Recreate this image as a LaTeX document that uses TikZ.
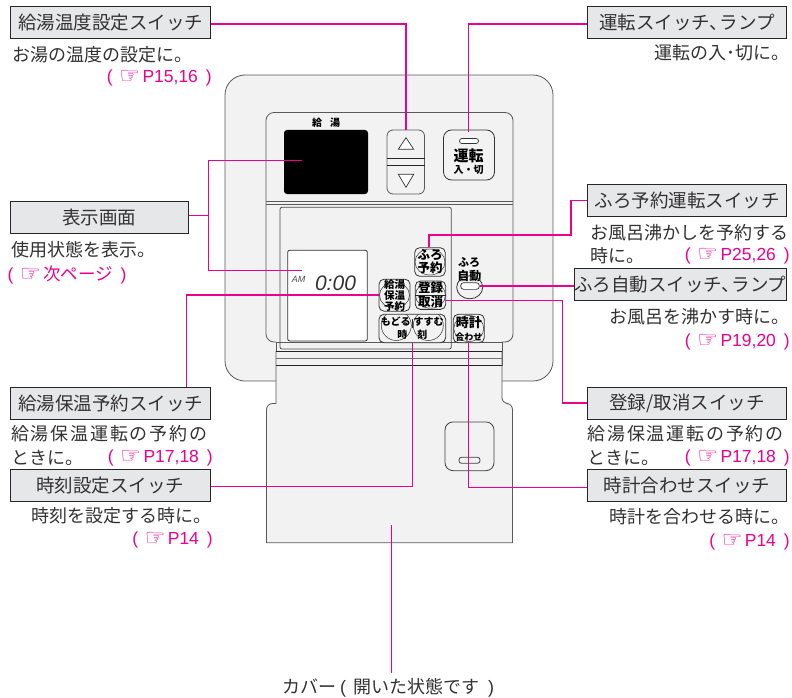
\documentclass[tikz,border=0pt]{standalone}
\usepackage{fontspec}
\setmainfont{Noto Sans CJK JP}
\newfontfamily\latinfont{Liberation Sans}
\newfontfamily\fistfont{DejaVu Sans}
\newfontfamily\widefont[LetterSpace=10]{Noto Sans CJK JP}
\definecolor{leadpink}{HTML}{EC008C}
\definecolor{panelgray}{HTML}{F2F2F2}
\definecolor{boxgray}{HTML}{E6E7E8}
\definecolor{inkgray}{HTML}{333132}
\newcommand{\pgmark}[1]{{\latinfont(}\hspace{6.7pt}\raisebox{-1.5pt}{\fistfont\fontsize{23}{20}\selectfont ☞}\hspace{2.4pt}#1\hspace{8pt}{\latinfont)}}
\newcommand{\pgref}[1]{\pgmark{{\latinfont #1}}}
\newcommand{\fsize}[1]{\fontsize{#1}{#1}\selectfont}
\tikzset{
    headbox/.style={draw=black!85, line width=.9pt, fill=boxgray, text=inkgray, inner sep=0pt, minimum height=32pt, font=\fsize{18.5}},
    bodytext/.style={text=inkgray, inner sep=0pt, font=\fsize{18}},
    pinktext/.style={text=leadpink, inner sep=0pt, font=\fsize{17.5}},
    panel/.style={draw=black!65, line width=.8pt, fill=panelgray},
    lead/.style={draw=leadpink, line width=1.1pt},
    btn/.style={draw=black!80, line width=.8pt, fill=panelgray, rounded corners=5pt, inner sep=0pt, align=center, font=\fontsize{12.5}{13}\selectfont\bfseries,
        path picture={\draw[line width=.5pt] (path picture bounding box.center) ellipse (15pt and 13pt);}},
    tinylabel/.style={inner sep=0pt, font=\fsize{10}\bfseries}
}
\begin{document}
\begin{tikzpicture}[x=1pt, y=-1pt]
\useasboundingbox (0,0) rectangle (792,698);

% panel and cover
\draw[panel, rounded corners=20pt] (276,381)--(225,381)--(225,75)--(553,75)--(553,381)--(502,381);
\draw[panel, rounded corners=8pt] (276,342)--(266,342)--(266,112.5)--(513,112.5)--(513,342)--(502,342);
\draw[panel] (276,342) rectangle (502,365);
\draw[panel] (276,351) -- (276,403.5) [rounded corners=6pt] -- (266.5,403.5) -- (266.5,420) [sharp corners] -- (266.5,542.7)--(512.5,542.7)--(512.5,420) [rounded corners=6pt] -- (512.5,403.5) -- (502,403.5) [sharp corners] -- (502,351);
\draw[black!85, line width=.8pt] (276,351)--(502,351);
\draw[black!55, line width=.8pt] (276,358)--(502,358);
\draw[black!85, line width=.8pt] (276,365)--(502,365);
\draw[black!65, line width=.8pt] (266,201.7)--(513,201.7);
\draw[black!65, line width=.8pt] (266,204)--(513,204);

% upper part
\node[tinylabel] (kyuto) at (326,123) {給\hspace{8pt}湯};
\node[fill=black, rounded corners=3pt, minimum width=84pt, minimum height=64pt, inner sep=0pt] (screen) at (326,162) {};
\draw[panel, rounded corners=6pt] (387,130) rectangle (424.5,194);
\draw[black!85, line width=.8pt] (387,158)--(424.5,158);
\draw[black!85, line width=.8pt] (387,165)--(424.5,165);
\draw[black!80, line width=.7pt, fill=white] (406,137.7)--(413.7,149.3)--(398.3,149.3)--cycle;
\draw[black!80, line width=.7pt, fill=white] (406,187.3)--(413.7,174.3)--(398.3,174.3)--cycle;
\coordinate (upkey) at (406,130);
\node[draw=black!80, line width=.8pt, fill=panelgray, rounded corners=8pt, minimum width=51pt, minimum height=50pt, inner sep=0pt] (runkey) at (469,155) {};
\node[draw=black!80, line width=.7pt, fill=white, rounded corners=2.5pt, minimum width=19pt, minimum height=5pt, inner sep=0pt] (runlamp) at (469,141) {};
\node[inner sep=0pt, font=\fsize{15}\bfseries] (runtext) at (468.5,155.5) {運転};
\node[inner sep=0pt, font=\fsize{10}\bfseries] (runsub) at (468.5,170) {入・切};

% lower part
\draw[draw=black!70, line width=.8pt, rounded corners=2pt] (280,207.3) rectangle (451.3,349);
\node[draw=black!80, line width=.8pt, fill=white, rounded corners=2pt, minimum width=79.6pt, minimum height=90.7pt, inner sep=0pt] (lcd) at (327.5,295.6) {};
\node[inner sep=0pt, text=black!70, font=\latinfont\fsize{9}\itshape] (amtext) at (298.7,279) {AM};
\node[inner sep=0pt, text=black!80, font=\latinfont\fsize{21}\itshape] (clock) at (335.5,283.5) {0:00};
\node[btn, minimum width=30.6pt, minimum height=28.6pt] (bathres) at (430,262) {ふろ\\予約};
\node[btn, minimum width=31pt, minimum height=28.3pt, font=\fontsize{10.5}{9}\selectfont\bfseries] (keepres) at (394.5,295.2) {給湯\\保温\\予約};
\node[btn, minimum width=30.4pt, minimum height=28.3pt] (cancel) at (430.5,295.2) {登録\\[1pt]取消};
\draw[black!85, line width=.8pt] (cancel.west)--(cancel.east);
\node[btn, minimum width=66.7pt, minimum height=28.4pt, font=\fontsize{10}{13}\selectfont\bfseries,
    path picture={\draw[line width=.5pt] (path picture bounding box.center) +(-16,-3) circle (15pt) +(16,-3) circle (15pt);}] (timekey) at (412.3,328.5) {もどる\hspace{3pt}すすむ\\時\hspace{10pt}刻};
\draw[black!85, line width=.8pt] (timekey.center) +(0,-9.5) -- +(0,-.5);
\node[btn, minimum width=31pt, minimum height=28.4pt, font=\fontsize{13}{13}\selectfont\bfseries] (clockkey) at (468.8,328.5) {時計\\{\fsize{9}合わせ}};
\node[tinylabel, font=\fsize{11}\bfseries] (furotext) at (469,263) {ふろ};
\node[tinylabel, font=\fsize{12}\bfseries] (autotext) at (469.3,276) {自動};
\draw[black!80, line width=.8pt] (469.7,287.3) ellipse (13pt and 11.5pt);
\node[draw=black!80, line width=.7pt, fill=white, rounded corners=3pt, minimum width=18.6pt, minimum height=6.7pt, inner sep=0pt] (autolamp) at (470,286) {};

% cover key
\node[draw=black!75, line width=.8pt, rounded corners=8pt, minimum width=49pt, minimum height=48.7pt, inner sep=0pt] (coverkey) at (469.5,446.3) {};
\node[draw=black!75, line width=.8pt, rounded corners=2.5pt, minimum width=21pt, minimum height=6pt, inner sep=0pt] (coverlamp) at (469.5,460.3) {};

% titles
\node[headbox, minimum width=200pt] (tempbox) at (110.7,22.1) {給湯温度設定スイッチ};
\node[headbox, minimum width=199.4pt] (runbox) at (687,22.5) {運転スイッチ、\hspace{-8pt}ランプ};
\node[headbox, minimum width=178pt] (dispbox) at (99.3,217) {表示画面};
\node[headbox, minimum width=199.4pt] (resbox) at (687,200.7) {ふろ予約運転スイッチ};
\node[headbox, minimum width=212.7pt] (autobox) at (680.3,284.5) {ふろ自動スイッチ、\hspace{-8pt}ランプ};
\node[headbox, minimum width=200.4pt] (keepbox) at (110.5,403) {給湯保温予約スイッチ};
\node[headbox, minimum width=199.4pt] (cancelbox) at (687,403) {登録/取消スイッチ};
\node[headbox, minimum width=200.7pt] (timebox) at (110.4,485.5) {時刻設定スイッチ};
\node[headbox, minimum width=199.4pt] (clockbox) at (687,485.5) {時計合わせスイッチ};

% texts
\node[bodytext, anchor=west] (temptext) at (12,55) {お湯の温度の設定に。};
\node[pinktext, anchor=east] (tempref) at (212,77.5) {\pgref{P15,16}};
\node[bodytext, anchor=east] (runinfo) at (790,53) {運転の入･切に。};
\node[bodytext, anchor=west] (disptext) at (11,250) {使用状態を表示。};
\node[pinktext, anchor=west] (dispref) at (7.3,274.5) {\pgmark{次ページ}};
\node[bodytext, anchor=west] (restext) at (590,232.5) {お風呂沸かしを予約する};
\node[bodytext, anchor=west] (restime) at (590,255.5) {時に。};
\node[pinktext, anchor=east] (resref) at (790,255.5) {\pgref{P25,26}};
\node[bodytext, anchor=east] (autoinfo) at (790,317) {お風呂を沸かす時に。};
\node[pinktext, anchor=east] (autoref) at (790,341.5) {\pgref{P19,20}};
\node[bodytext, anchor=west, font=\fsize{18}\widefont] (keeptext) at (11,433.5) {給湯保温運転の予約の};
\node[bodytext, anchor=west] (keeptime) at (11,457.5) {ときに。};
\node[pinktext, anchor=east] (keepref) at (213,457.5) {\pgref{P17,18}};
\node[bodytext, anchor=west, font=\fsize{18}\widefont] (canceltext) at (587.3,433.5) {給湯保温運転の予約の};
\node[bodytext, anchor=west] (canceltime) at (587.3,457.5) {ときに。};
\node[pinktext, anchor=east] (cancelref) at (790,457.5) {\pgref{P17,18}};
\node[bodytext, anchor=west] (timeinfo) at (31,515.5) {時刻を設定する時に。};
\node[pinktext, anchor=east] (timeref) at (213,539.5) {\pgref{P14}};
\node[bodytext, anchor=east] (clockinfo) at (790,517) {時計を合わせる時に。};
\node[pinktext, anchor=east] (clockref) at (790,541.5) {\pgref{P14}};
\node[bodytext, anchor=west] (covertext) at (282,688) {カバー\hspace{4pt}{\latinfont(}\hspace{7pt}開いた状態です\hspace{9pt}{\latinfont)}};

% leaders
\coordinate (tempjog) at (406,24);
\coordinate (runjog) at (468.7,24);
\coordinate (runend) at (468.7,132);
\coordinate (dispjoin) at (208.3,215.7);
\coordinate (screenend) at (302,160.7);
\coordinate (lcdend) at (302,270.8);
\coordinate (resjog) at (571,200.7);
\coordinate (resdrop) at (429,235);
\coordinate (keepjog) at (186.7,295);
\coordinate (canceljog) at (562.7,300.5);
\coordinate (timejog) at (412.3,486.7);
\coordinate (clockjog) at (468.3,487.3);
\coordinate (coverend) at (391.7,525);
\coordinate (coverfoot) at (391.7,673);
\draw[lead] (tempbox.east |- tempjog) -- (tempjog) -- (upkey);
\draw[lead] (runbox.west |- runjog) -- (runjog) -- (runend);
\draw[lead] (dispbox.east |- dispjoin) -- (dispjoin);
\draw[lead] (screenend) -| (dispjoin) |- (lcdend);
\draw[lead] (resbox.west) -- (resjog) |- (resdrop) -- (resdrop |- bathres.north);
\draw[lead] (autobox.west |- autolamp.east) -- (autolamp.east);
\draw[lead] (keepjog |- keepbox.north) -- (keepjog) -- (keepjog -| keepres.west);
\draw[lead] (cancelbox.west) -| (canceljog) -- (canceljog -| cancel.east);
\draw[lead] (timebox.east |- timejog) -- (timejog) -- (timekey.south);
\draw[lead] (clockbox.west |- clockjog) -- (clockjog) -- (clockjog |- clockkey.south);
\draw[lead] (coverend) -- (coverfoot);
\end{tikzpicture}
\end{document}
